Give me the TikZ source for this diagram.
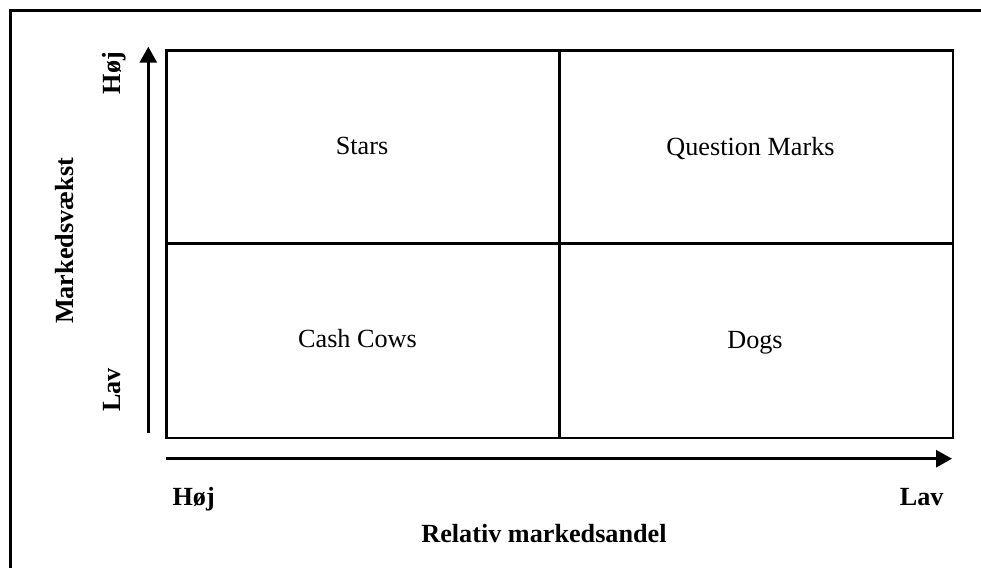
\documentclass[tikz,border=0pt]{standalone}
\usepackage{fontspec}
\setmainfont{Liberation Serif}
\usetikzlibrary{arrows.meta}
\begin{document}
\begin{tikzpicture}[x=1pt,y=-1pt,
  frame/.style={line width=3pt},
  grid/.style={line width=2.9pt},
  axis/.style={line width=3pt,-{Triangle[length=16pt,width=17pt]}},
  cell/.style={anchor=base,inner sep=0pt,font=\fontsize{26.2}{30}\selectfont},
  axlabel/.style={anchor=base,inner sep=0pt,font=\fontsize{26.2}{30}\selectfont\bfseries}]
  \useasboundingbox (0,0) rectangle (981,567);
  \clip (0,0) rectangle (981,567);
  % outer frame (runs past the page on the right and bottom)
  \draw[frame] (10.7,10.7) rectangle (1010,600);
  % matrix of four cells
  \draw[grid] (166.5,50.5) rectangle (953,438);
  \draw[grid] (559.7,50.5) -- (559.7,438);
  \draw[grid] (166.5,243.8) -- (953,243.8);
  % cell labels
  \node[cell] (stars) at (362,154.5) {Stars};
  \node[cell] (qm) at (750.5,155) {Question Marks};
  \node[cell] (cows) at (357.5,347.7) {Cash Cows};
  \node[cell] (dogs) at (755,348) {Dogs};
  % axes
  \coordinate (ybot) at (148.3,433.3);
  \coordinate (ytop) at (148.3,46.7);
  \coordinate (xleft) at (165.7,458.7);
  \coordinate (xright) at (952,458.7);
  \draw[axis] (ybot) -- (ytop);
  \draw[axis] (xleft) -- (xright);
  % axis labels
  \node[axlabel,rotate=90] (yhigh) at (120,73) {Høj};
  \node[axlabel,rotate=90] (ylow) at (120,390) {Lav};
  \node[axlabel,rotate=90] (ytitle) at (73,241) {Markedsvækst};
  \node[axlabel] (xhigh) at (193.7,505) {Høj};
  \node[axlabel] (xlow) at (921.7,505) {Lav};
  \node[axlabel] (xtitle) at (544,542.7) {Relativ markedsandel};
\end{tikzpicture}
\end{document}
